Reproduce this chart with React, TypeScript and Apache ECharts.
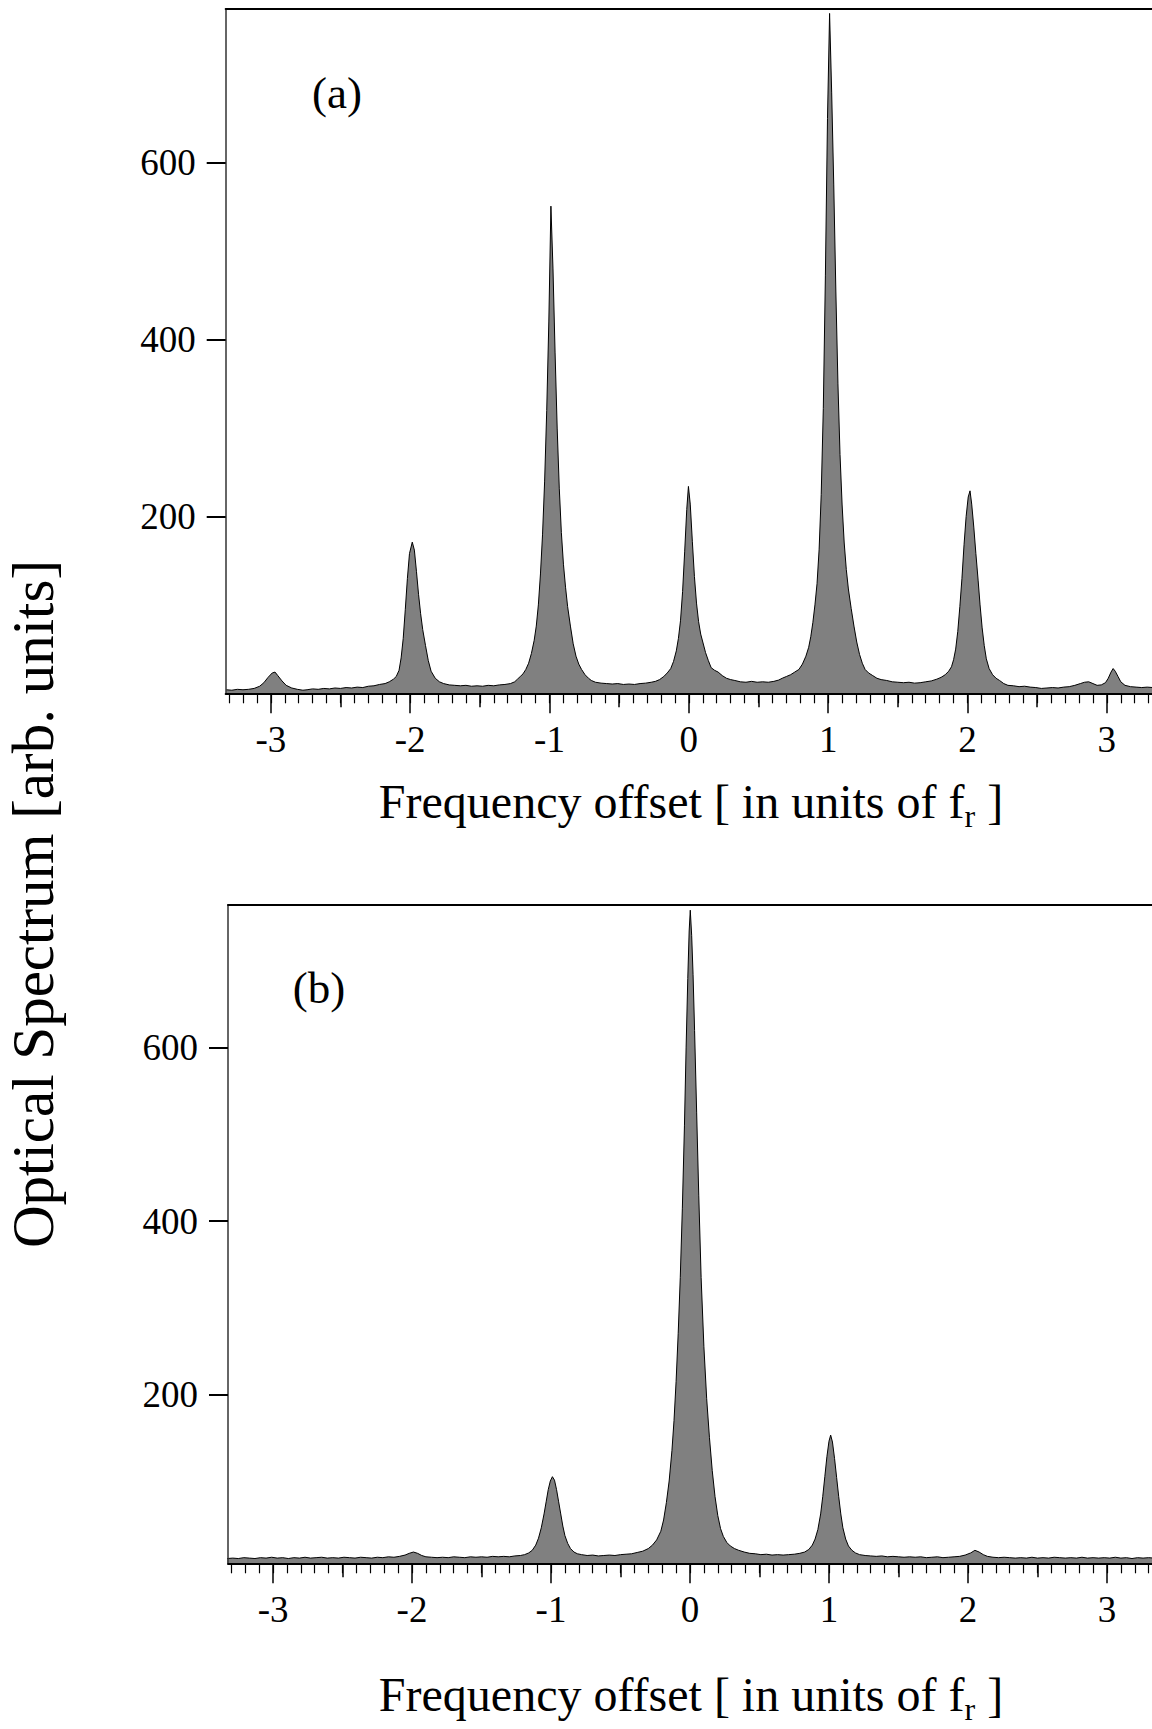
import React, { useEffect, useRef } from "react";
import * as echarts from "echarts";

const SERIF = "'Liberation Serif', 'Times New Roman', serif";

const X_MIN = -3.324;
const X_MAX = 3.324;
const MAJOR_TICKS = [-3, -2, -1, 0, 1, 2, 3];
const HALF_TICKS = [-2.5, -1.5, -0.5, 0.5, 1.5, 2.5];
const MINOR_TICKS: number[] = [];
for (let i = -33; i <= 33; i++) MINOR_TICKS.push(i / 10);
const Y_TICKS = [200, 400, 600];

const Y_RANGE_A = [0, 774];
const Y_RANGE_B = [5, 765];

const PANEL_LABELS = ["(a)", "(b)"];
const X_TITLE_MAIN = "Frequency offset [ in units of f";
const X_TITLE_SUB = "r";
const X_TITLE_END = " ]";
const Y_TITLE = "Optical Spectrum [arb. units]";

// panel (a): [frequency offset, optical spectrum]
const SPECTRUM_A: [number, number][] = [
  [-3.32, 4], [-3.28, 3.5], [-3.24, 4.5], [-3.2, 4], [-3.16, 4.5], [-3.12, 5.5], [-3.08, 8], [-3.05, 12],
  [-3.02, 18], [-2.99, 23], [-2.97, 24], [-2.95, 20], [-2.92, 14], [-2.89, 9], [-2.85, 6], [-2.81, 4.5],
  [-2.77, 3.5], [-2.74, 4], [-2.7, 5], [-2.66, 4.5], [-2.62, 5.5], [-2.58, 5], [-2.54, 6], [-2.5, 5.5],
  [-2.46, 6.5], [-2.42, 6], [-2.38, 7], [-2.34, 6.5], [-2.3, 8], [-2.26, 8.5], [-2.22, 10], [-2.18, 11],
  [-2.15, 13], [-2.12, 16], [-2.1, 19], [-2.08, 26], [-2.065, 40], [-2.05, 62], [-2.035, 95], [-2.02, 130],
  [-2.005, 158], [-1.985, 171], [-1.97, 162], [-1.955, 138], [-1.94, 112], [-1.925, 90], [-1.91, 72],
  [-1.89, 54], [-1.87, 37], [-1.85, 25], [-1.82, 17], [-1.79, 13], [-1.76, 11], [-1.72, 9.5], [-1.68, 9],
  [-1.64, 8.5], [-1.6, 9], [-1.56, 8], [-1.52, 8.5], [-1.48, 8], [-1.44, 9], [-1.4, 8.5], [-1.36, 9.5],
  [-1.32, 10], [-1.28, 11], [-1.25, 13], [-1.23, 16], [-1.21, 19], [-1.19, 22], [-1.17, 27], [-1.15, 34],
  [-1.13, 45], [-1.11, 60], [-1.095, 76], [-1.08, 100], [-1.065, 135], [-1.05, 180], [-1.035, 240],
  [-1.02, 320], [-1.005, 420], [-0.99, 551], [-0.975, 480], [-0.96, 385], [-0.945, 300], [-0.93, 232],
  [-0.915, 182], [-0.9, 146], [-0.885, 120], [-0.87, 98], [-0.85, 76], [-0.83, 56], [-0.81, 42], [-0.79, 33],
  [-0.77, 27], [-0.745, 21], [-0.72, 17], [-0.7, 14.5], [-0.67, 12.5], [-0.63, 11.5], [-0.59, 11], [-0.55, 10.5],
  [-0.51, 11], [-0.47, 10], [-0.43, 10.5], [-0.39, 10], [-0.35, 11], [-0.31, 11.5], [-0.27, 12.5],
  [-0.24, 13.5], [-0.21, 15.5], [-0.18, 19], [-0.155, 23], [-0.13, 28], [-0.11, 36], [-0.09, 48],
  [-0.075, 62], [-0.06, 82], [-0.045, 115], [-0.03, 160], [-0.015, 208], [-0.003, 234], [0.01, 214],
  [0.025, 172], [0.04, 132], [0.055, 102], [0.07, 81], [0.085, 67], [0.1, 58], [0.12, 46], [0.14, 37],
  [0.16, 29], [0.185, 26], [0.21, 24], [0.24, 20], [0.27, 17], [0.3, 15.5], [0.33, 14.5], [0.37, 13],
  [0.41, 12.5], [0.45, 13.5], [0.49, 12.5], [0.53, 13], [0.57, 12.5], [0.61, 13.5], [0.645, 15], [0.67, 17],
  [0.7, 19], [0.73, 21], [0.76, 24], [0.79, 27], [0.815, 33], [0.84, 42], [0.86, 52], [0.875, 64],
  [0.89, 80], [0.905, 100], [0.92, 124], [0.935, 163], [0.95, 225], [0.965, 322], [0.98, 473], [0.995, 650],
  [1.01, 769], [1.025, 680], [1.04, 575], [1.055, 455], [1.07, 350], [1.085, 270], [1.1, 213], [1.115, 170],
  [1.13, 140], [1.145, 118], [1.165, 96], [1.185, 76], [1.205, 58], [1.225, 44], [1.245, 34], [1.265, 27],
  [1.29, 23], [1.32, 20], [1.35, 17], [1.38, 15.5], [1.42, 14.5], [1.46, 13], [1.5, 12.5], [1.54, 12],
  [1.58, 12.5], [1.62, 11.5], [1.66, 12], [1.7, 13], [1.74, 14], [1.78, 16], [1.81, 18], [1.84, 21],
  [1.865, 25], [1.885, 30], [1.9, 38], [1.915, 50], [1.93, 70], [1.945, 98], [1.96, 130], [1.975, 168],
  [1.99, 200], [2.005, 222], [2.018, 229], [2.03, 214], [2.045, 188], [2.06, 158], [2.076, 128], [2.09, 100],
  [2.105, 74], [2.12, 54], [2.135, 39], [2.155, 28], [2.18, 21], [2.205, 17], [2.23, 14.5], [2.26, 11],
  [2.29, 9], [2.33, 8.5], [2.37, 7.5], [2.41, 8], [2.45, 7], [2.49, 6.5], [2.53, 5.5], [2.57, 6], [2.61, 6.5],
  [2.65, 6], [2.69, 7], [2.73, 7.5], [2.77, 9], [2.81, 11], [2.84, 12.5], [2.87, 13], [2.9, 11], [2.93, 9],
  [2.96, 9.5], [2.99, 12], [3.01, 17], [3.03, 24], [3.045, 28], [3.06, 25], [3.08, 19], [3.1, 13], [3.13, 9],
  [3.17, 7.5], [3.21, 7], [3.25, 6.5], [3.29, 7], [3.33, 6.5],
];

// panel (b): [frequency offset, optical spectrum]
const SPECTRUM_B: [number, number][] = [
  [-3.33, 10.5], [-3.29, 11], [-3.25, 10.5], [-3.21, 11.5], [-3.17, 11], [-3.13, 10.5], [-3.09, 11.5],
  [-3.05, 11], [-3.01, 12], [-2.97, 11], [-2.93, 11.5], [-2.89, 10.5], [-2.85, 11.5], [-2.81, 11], [-2.77, 12],
  [-2.73, 11], [-2.69, 11.5], [-2.65, 12], [-2.61, 11], [-2.57, 11.5], [-2.53, 11], [-2.49, 12], [-2.45, 11.5],
  [-2.41, 11], [-2.37, 12], [-2.33, 11.5], [-2.29, 11], [-2.25, 12], [-2.21, 11.5], [-2.17, 12.5], [-2.13, 12],
  [-2.09, 13], [-2.05, 14.5], [-2.02, 16.5], [-1.99, 18], [-1.96, 16.5], [-1.93, 14], [-1.9, 12.5], [-1.86, 12],
  [-1.82, 11.5], [-1.78, 12], [-1.74, 11.5], [-1.7, 12.5], [-1.66, 12], [-1.62, 11.5], [-1.58, 12.5], [-1.54, 12],
  [-1.5, 12.5], [-1.46, 12], [-1.42, 13], [-1.38, 12.5], [-1.34, 13], [-1.3, 12.5], [-1.26, 13.5], [-1.22, 14],
  [-1.19, 15], [-1.16, 17], [-1.135, 20], [-1.11, 26], [-1.09, 34], [-1.07, 46], [-1.05, 62], [-1.035, 76],
  [-1.02, 90], [-1.005, 100], [-0.99, 105], [-0.975, 101], [-0.96, 90], [-0.945, 76], [-0.93, 62], [-0.915, 48],
  [-0.9, 37], [-0.88, 28], [-0.86, 22], [-0.835, 18], [-0.81, 16], [-0.78, 15], [-0.74, 14], [-0.7, 14.5],
  [-0.66, 13.5], [-0.62, 14], [-0.58, 14.5], [-0.54, 14], [-0.5, 15], [-0.46, 15.5], [-0.42, 16], [-0.38, 17.5],
  [-0.34, 19], [-0.3, 22], [-0.27, 26], [-0.24, 32], [-0.21, 42], [-0.19, 55], [-0.17, 75], [-0.15, 100],
  [-0.13, 135], [-0.115, 170], [-0.1, 215], [-0.085, 270], [-0.07, 335], [-0.055, 415], [-0.04, 510],
  [-0.028, 600], [-0.016, 680], [-0.006, 735], [0.002, 759], [0.012, 730], [0.022, 685], [0.033, 620],
  [0.048, 525], [0.063, 430], [0.08, 335], [0.1, 255], [0.12, 195], [0.14, 150], [0.16, 112], [0.18, 82],
  [0.2, 60], [0.22, 45], [0.24, 36], [0.265, 29], [0.29, 25], [0.32, 22], [0.35, 20], [0.39, 18],
  [0.43, 16.5], [0.47, 16], [0.51, 15], [0.55, 15.5], [0.59, 14.5], [0.63, 15], [0.67, 14.5], [0.71, 15],
  [0.75, 15.5], [0.79, 16.5], [0.825, 18], [0.855, 21], [0.88, 26], [0.9, 33], [0.92, 44], [0.94, 62],
  [0.955, 82], [0.97, 105], [0.985, 128], [1.0, 146], [1.012, 153], [1.025, 145], [1.04, 126], [1.055, 104],
  [1.07, 82], [1.085, 62], [1.1, 46], [1.12, 33], [1.14, 25], [1.165, 20], [1.19, 17], [1.22, 15], [1.26, 14],
  [1.3, 13.5], [1.34, 13], [1.38, 13.5], [1.42, 12.5], [1.46, 13], [1.5, 12.5], [1.54, 12], [1.58, 12.5],
  [1.62, 12], [1.66, 12.5], [1.7, 11.5], [1.74, 12], [1.78, 12.5], [1.82, 11.5], [1.86, 12], [1.9, 12.5],
  [1.94, 13], [1.98, 14.5], [2.02, 17], [2.05, 20], [2.08, 18], [2.11, 15], [2.14, 13], [2.18, 12],
  [2.22, 11.5], [2.26, 12], [2.3, 11.5], [2.34, 11], [2.38, 11.5], [2.42, 11], [2.46, 12], [2.5, 11],
  [2.54, 11.5], [2.58, 11], [2.62, 12], [2.66, 11.5], [2.7, 11], [2.74, 11.5], [2.78, 11], [2.82, 12],
  [2.86, 11], [2.9, 11.5], [2.94, 11], [2.98, 11.5], [3.02, 11], [3.06, 12], [3.1, 11], [3.14, 11.5],
  [3.18, 10.5], [3.22, 11.5], [3.26, 11], [3.3, 11.5], [3.34, 11],
];

function xAxesFor(g: number) {
  const base = {
    type: "value" as const,
    gridIndex: g,
    min: X_MIN,
    max: X_MAX,
    z: 5,
    splitLine: { show: false },
  };
  return [
    {
      ...base,
      position: "bottom",
      axisLine: { show: true, onZero: false, lineStyle: { color: "#000", width: 2 } },
      axisTick: { show: true, inside: false, length: 20, customValues: MAJOR_TICKS, lineStyle: { color: "#000", width: 1.5 } },
      axisLabel: {
        show: true,
        customValues: MAJOR_TICKS,
        margin: 28,
        fontSize: 37,
        fontFamily: SERIF,
        color: "#000",
        formatter: (v: number) => String(v),
      },
    },
    {
      ...base,
      position: "bottom",
      axisLine: { show: false, onZero: false },
      axisTick: { show: true, inside: false, length: 14, customValues: HALF_TICKS, lineStyle: { color: "#000", width: 1.5 } },
      axisLabel: { show: false },
    },
    {
      ...base,
      position: "bottom",
      axisLine: { show: false, onZero: false },
      axisTick: { show: true, inside: false, length: 10, customValues: MINOR_TICKS, lineStyle: { color: "#000", width: 1.2 } },
      axisLabel: { show: false },
    },
    {
      ...base,
      position: "top",
      axisLine: { show: true, onZero: false, lineStyle: { color: "#000", width: 2 } },
      axisTick: { show: false },
      axisLabel: { show: false },
    },
  ];
}

function yAxisFor(g: number, range: number[]) {
  return {
    type: "value" as const,
    gridIndex: g,
    position: "left",
    min: range[0],
    max: range[1],
    z: 5,
    axisLine: { show: true, onZero: false, lineStyle: { color: "#333", width: 1.5 } },
    axisTick: { show: true, inside: false, length: 19, customValues: Y_TICKS, lineStyle: { color: "#000", width: 2 } },
    axisLabel: { show: true, customValues: Y_TICKS, margin: 30, fontSize: 37, fontFamily: SERIF, color: "#000" },
    splitLine: { show: false },
  };
}

function spectrumSeries(data: [number, number][], g: number) {
  return {
    type: "line" as const,
    xAxisIndex: g * 4,
    yAxisIndex: g,
    data,
    showSymbol: false,
    symbol: "none",
    smooth: false,
    silent: true,
    clip: true,
    lineStyle: { color: "#000", width: 1 },
    areaStyle: { color: "#808080", opacity: 1, origin: "start" },
    z: 2,
  };
}

function xTitle(y: number) {
  return {
    type: "text",
    x: 691,
    y,
    style: {
      text: `{m|${X_TITLE_MAIN}}{s|${X_TITLE_SUB}}{m|${X_TITLE_END}}`,
      fontSize: 48,
      fontFamily: SERIF,
      fill: "#000",
      align: "center",
      verticalAlign: "middle",
      textAlign: "center",
      textVerticalAlign: "middle",
      rich: {
        m: { fontSize: 48, fontFamily: SERIF, fill: "#000", color: "#000" },
        s: { fontSize: 32, fontFamily: SERIF, fill: "#000", color: "#000", padding: [30, 0, 0, 0] },
      },
    },
  };
}

function label(text: string, x: number, y: number) {
  return {
    type: "text",
    x,
    y,
    style: {
      text,
      fontSize: 45,
      fontFamily: SERIF,
      fill: "#000",
      align: "center",
      verticalAlign: "middle",
      textAlign: "center",
      textVerticalAlign: "middle",
    },
  };
}

export default function App() {
  const ref = useRef<HTMLDivElement>(null);

  useEffect(() => {
    if (!ref.current) return;
    const chart = echarts.init(ref.current, null, { renderer: "svg" });
    chart.setOption({
      animation: false,
      backgroundColor: "#fff",
      grid: [
        { left: 225.7, top: 9, width: 930.6, height: 684.3 },
        { left: 228, top: 905, width: 930.6, height: 658.3 },
      ],
      xAxis: [...xAxesFor(0), ...xAxesFor(1)],
      yAxis: [yAxisFor(0, Y_RANGE_A), yAxisFor(1, Y_RANGE_B)],
      series: [spectrumSeries(SPECTRUM_A, 0), spectrumSeries(SPECTRUM_B, 1)],
      graphic: [
        label(PANEL_LABELS[0], 337, 93),
        label(PANEL_LABELS[1], 319, 988),
        xTitle(801),
        xTitle(1694),
        {
          type: "text",
          x: 33,
          y: 904,
          rotation: Math.PI / 2,
          style: {
            text: Y_TITLE,
            fontSize: 59,
            fontFamily: SERIF,
            fill: "#000",
            align: "center",
            verticalAlign: "middle",
            textAlign: "center",
            textVerticalAlign: "middle",
          },
        },
      ],
    });
    return () => chart.dispose();
  }, []);

  return (
    <div
      ref={ref}
      style={{ position: "absolute", left: 0, top: 0, width: 1152, height: 1729, overflow: "hidden" }}
    />
  );
}
